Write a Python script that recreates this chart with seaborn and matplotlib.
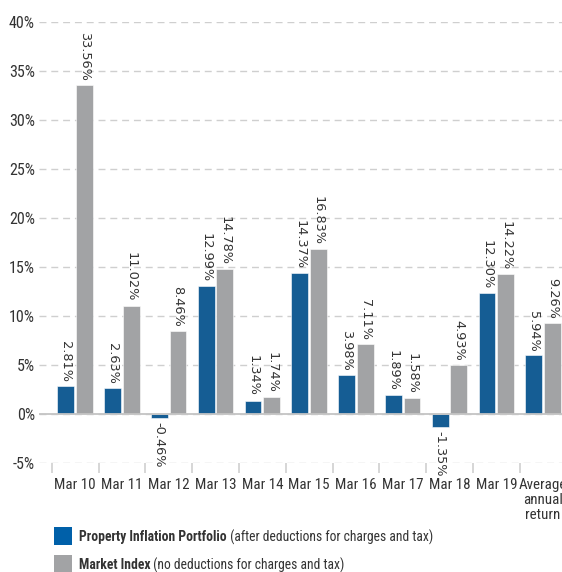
import matplotlib
matplotlib.use("Agg")
import matplotlib.pyplot as plt
from matplotlib.patches import Rectangle
import numpy as np
import pandas as pd
import seaborn as sns

periods = ["Mar 10", "Mar 11", "Mar 12", "Mar 13", "Mar 14", "Mar 15",
           "Mar 16", "Mar 17", "Mar 18", "Mar 19", "Average\nannual\nreturn"]
portfolio = [2.81, 2.63, -0.46, 12.99, 1.34, 14.37, 3.98, 1.89, -1.35, 12.30, 5.94]
market = [33.56, 11.02, 8.46, 14.78, 1.74, 16.83, 7.11, 1.58, 4.93, 14.22, 9.26]
series = ["Property Inflation Portfolio", "Market Index"]
notes = [" (after deductions for charges and tax)", " (no deductions for charges and tax)"]
y_ticks = [-5, 0, 5, 10, 15, 20, 25, 30, 35, 40]

blue = "#0060a9"
gray = "#a2a3a5"
text_col = "#333333"

sns.set_style("white")
plt.rcParams["font.family"] = ["Roboto Condensed", "Lato", "DejaVu Sans"]

df = pd.DataFrame({
    "period": periods * 2,
    "value": portfolio + market,
    "series": [series[0]] * len(periods) + [series[1]] * len(periods),
})

fig = plt.figure(figsize=(5.62, 5.72), dpi=100)
ax = fig.add_axes([39 / 562, 1 - 462.7 / 572, 1 - 39 / 562, (462.7 - 21.5) / 572])

sns.barplot(data=df, x="period", y="value", hue="series", palette=[blue, gray],
            width=0.8, gap=0.1, edgecolor="white", linewidth=0.4,
            legend=False, ax=ax)

# value labels, rotated to read downward
for cont, vals in zip(ax.containers, [portfolio, market]):
    ax.bar_label(cont, labels=[f"{v:.2f}%" for v in vals], rotation=270,
                 padding=3, fontsize=9.3, color=text_col, family="DejaVu Sans")

unit = 46.8
ax.set_xlim(-0.5 - 12.7 / unit, -0.5 + (562 - 51.7) / unit)
ax.set_ylim(-5, 40)
ax.set_yticks(y_ticks)
ax.set_yticklabels([f"{t}%" for t in y_ticks])
ax.yaxis.grid(True, linestyle=(0, (5, 3.5)), color="#cfcfcf", linewidth=1)
ax.set_axisbelow(True)
ax.axhline(0, color="#c4c4c4", linewidth=1.3, zorder=1)
for s in ax.spines.values():
    s.set_visible(False)

ax.set_xlabel("")
ax.set_ylabel("")
ax.tick_params(axis="y", length=0, pad=3, labelsize=11.5, labelcolor=text_col)
ax.tick_params(axis="x", which="major", length=0, pad=11, labelsize=10.8,
               labelcolor=text_col)
ax.set_xticks(np.arange(-0.5, len(periods) - 0.5, 1), minor=True)
ax.tick_params(axis="x", which="minor", bottom=True, length=7.5, width=1.2,
               color="#cfcfcf", direction="out")
for lab in ax.get_xticklabels():
    lab.set_linespacing(1.1)

# legend drawn below the chart
for i, (name, note, col) in enumerate(zip(series, notes, [blue, gray])):
    ytop = 527 + i * 28
    fig.patches.append(Rectangle((54 / 562, 1 - (ytop + 18) / 572), 18 / 562, 18 / 572,
                                 transform=fig.transFigure, facecolor=col,
                                 edgecolor="none"))
    t1 = fig.text(79 / 562, 1 - (ytop + 10) / 572, name, fontsize=9.8,
                  fontweight="bold", color=text_col, va="center")
    ax.annotate(note, xy=(1, 0.5), xycoords=t1, va="center", ha="left",
                fontsize=9.8, color=text_col, annotation_clip=False)

fig.savefig("out.png", dpi=100)
